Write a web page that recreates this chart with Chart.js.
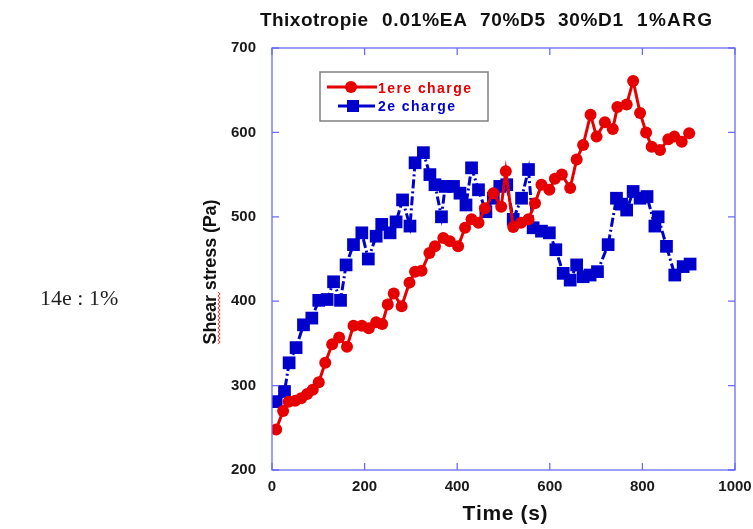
<!DOCTYPE html>
<html>
<head>
<meta charset="utf-8">
<script src="https://cdn.jsdelivr.net/npm/chart.js@4"></script>
<style>
  html, body { margin: 0; padding: 0; background: #fff; }
  #wrap { width: 753px; height: 529px; position: relative; }
</style>
</head>
<body>
<div id="wrap"><canvas id="thixoChart" width="753" height="529"></canvas></div>
<script>
// data
var titleWords = ["Thixotropie", "0.01%EA", "70%D5", "30%D1", "1%ARG"];
var seriesNames = ["1ere charge", "2e charge"];
var xTicks = [0, 200, 400, 600, 800, 1000];
var yTicks = [200, 300, 400, 500, 600, 700];

var time1 = [9, 24, 36, 50, 63, 76, 88, 101, 115, 130, 145, 162, 176, 194, 209, 225, 238, 250, 263, 280,
  297, 309, 323, 340, 352, 370, 384, 402, 417, 431, 446, 460, 478, 495, 505, 521, 538, 554, 568, 582,
  599, 611, 626, 644, 658, 672, 688, 701, 719, 736, 746, 766, 780, 795, 808, 820, 838, 856, 869, 885, 901];
var stress1 = [248, 270, 281, 282, 285, 290, 295, 304, 327, 349, 357, 346, 371, 371, 368, 375, 373, 396, 409, 394,
  422, 435, 436, 457, 465, 475, 471, 465, 487, 497, 493, 510, 528, 512, 554, 488, 493, 497, 516, 538,
  532, 545, 550, 534, 568, 585, 621, 595, 612, 604, 630, 633, 661, 623, 600, 583, 579, 592, 595, 589, 599];

var time2 = [9, 27, 37, 52, 68, 86, 101, 119, 133, 148, 160, 176, 194, 208, 225, 237, 255, 268, 282, 298,
  309, 327, 341, 352, 366, 374, 392, 406, 419, 431, 446, 462, 478, 492, 507, 521, 539, 554, 564, 582,
  599, 613, 629, 644, 658, 672, 687, 703, 726, 744, 755, 766, 780, 795, 810, 827, 834, 852, 870, 888, 903];
var stress2 = [281, 293, 327, 345, 372, 380, 401, 402, 423, 401, 443, 467, 481, 450, 477, 491, 481, 494, 520, 489,
  564, 576, 550, 538, 500, 536, 536, 528, 514, 558, 532, 506, 522, 536, 538, 497, 522, 556, 487, 483,
  481, 461, 433, 425, 443, 429, 431, 435, 467, 522, 515, 508, 530, 522, 524, 489, 500, 465, 431, 441, 444];

var red = "#e60000";
var blue = "#0000cc";
var axisBlue = "#6a6aff";
var boldFont = "Liberation Sans, Arial, sans-serif";

function toPoints(xs, ys) {
  var pts = [];
  for (var i = 0; i < xs.length; i++) pts.push({ x: xs[i], y: ys[i] });
  return pts;
}

// the original text is letter-spaced, so spread the glyphs over a given width
function spacedText(ctx, text, x, y, width, centered) {
  var widths = [], total = 0;
  for (var i = 0; i < text.length; i++) {
    var w = ctx.measureText(text[i]).width;
    widths.push(w); total += w;
  }
  var gap = text.length > 1 ? (width - total) / (text.length - 1) : 0;
  var cx = centered ? x - width / 2 : x;
  ctx.textAlign = "left";
  for (var j = 0; j < text.length; j++) {
    ctx.fillText(text[j], cx, y);
    cx += widths[j] + gap;
  }
}

// frame, inward ticks, titles, legend and the left note
var decorPlugin = {
  id: 'decor',
  afterDraw: function (chart) {
    var ctx = chart.ctx;
    var a = chart.chartArea;
    var xs = chart.scales.x, ys = chart.scales.y;
    ctx.save();
    ctx.strokeStyle = axisBlue;
    ctx.lineWidth = 1.3;
    ctx.strokeRect(a.left, a.top, a.right - a.left, a.bottom - a.top);
    ctx.beginPath();
    xTicks.forEach(function (v) {
      var px = xs.getPixelForValue(v);
      ctx.moveTo(px, a.bottom); ctx.lineTo(px, a.bottom - 7);
      ctx.moveTo(px, a.top); ctx.lineTo(px, a.top + 7);
    });
    yTicks.forEach(function (v) {
      var py = ys.getPixelForValue(v);
      ctx.moveTo(a.left, py); ctx.lineTo(a.left + 7, py);
      ctx.moveTo(a.right, py); ctx.lineTo(a.right - 7, py);
    });
    ctx.stroke();

    // title, word by word
    ctx.fillStyle = "#111";
    ctx.textBaseline = "alphabetic";
    ctx.font = "bold 19px " + boldFont;
    var spans = [[260, 368], [382, 467], [480, 545], [558, 623], [637, 712]];
    titleWords.forEach(function (w, i) {
      spacedText(ctx, w, spans[i][0], 26, spans[i][1] - spans[i][0], false);
    });

    // axis titles
    ctx.font = "bold 21px " + boldFont;
    spacedText(ctx, "Time (s)", 505, 520, 85, true);
    ctx.save();
    ctx.translate(216, 272);
    ctx.rotate(-Math.PI / 2);
    ctx.font = "bold 18px " + boldFont;
    spacedText(ctx, "Shear stress (Pa)", 0, 0, 145, true);
    ctx.restore();

    // spell-check squiggle
    ctx.strokeStyle = "#ff3030";
    ctx.lineWidth = 1;
    ctx.beginPath();
    for (var y = 292, k = 0; y <= 345; y += 2, k++) {
      var x = 219 + (k % 2 === 0 ? -1.2 : 1.2);
      if (k === 0) ctx.moveTo(x, y); else ctx.lineTo(x, y);
    }
    ctx.stroke();

    // side note
    ctx.fillStyle = "#222";
    ctx.font = "22px Liberation Serif, Times New Roman, serif";
    ctx.textAlign = "left";
    ctx.fillText("14e : 1%", 40, 305);

    // legend
    ctx.strokeStyle = "#808080";
    ctx.lineWidth = 1.5;
    ctx.strokeRect(320, 72, 168, 49);
    ctx.lineWidth = 3;
    ctx.strokeStyle = red;
    ctx.beginPath(); ctx.moveTo(327, 87); ctx.lineTo(377, 87); ctx.stroke();
    ctx.fillStyle = red;
    ctx.beginPath(); ctx.arc(351, 87, 6, 0, Math.PI * 2); ctx.fill();
    ctx.strokeStyle = blue;
    ctx.beginPath(); ctx.moveTo(338, 106); ctx.lineTo(375, 106); ctx.stroke();
    ctx.fillStyle = blue;
    ctx.fillRect(347, 100, 12, 12);
    ctx.font = "bold 14px " + boldFont;
    ctx.fillStyle = red;
    spacedText(ctx, seriesNames[0], 378, 93, 93, false);
    ctx.fillStyle = blue;
    spacedText(ctx, seriesNames[1], 378, 111, 77, false);
    ctx.restore();
  }
};

var ctx = document.getElementById('thixoChart').getContext('2d');
var chart = new Chart(ctx, {
  type: 'line',
  data: {
    datasets: [{
      label: seriesNames[0],
      data: toPoints(time1, stress1),
      borderColor: red,
      backgroundColor: red,
      borderWidth: 3,
      pointStyle: 'circle',
      pointRadius: 6,
      pointBorderWidth: 0,
      tension: 0
    }, {
      label: seriesNames[1],
      data: toPoints(time2, stress2),
      borderColor: blue,
      backgroundColor: blue,
      borderWidth: 3,
      borderDash: [9, 3, 2, 3],
      pointStyle: 'rect',
      pointRadius: 9,
      pointBorderWidth: 0,
      tension: 0
    }]
  },
  options: {
    responsive: false,
    animation: false,
    layout: { padding: { left: 0, right: 18, top: 48, bottom: 0 } },
    plugins: {
      legend: { display: false },
      title: { display: false },
      tooltip: { enabled: false }
    },
    scales: {
      x: {
        type: 'linear',
        min: 0,
        max: 1000,
        afterBuildTicks: function (s) { s.ticks = xTicks.map(function (v) { return { value: v }; }); },
        afterFit: function (s) { s.height = 59; s.paddingLeft = 0; s.paddingRight = 0; },
        grid: { display: false, drawTicks: false },
        border: { display: false },
        ticks: {
          padding: 8, color: "#1a1a1a", maxRotation: 0,
          font: { family: boldFont, size: 15, weight: 'bold' },
          callback: function (v) { return String(v); }
        }
      },
      y: {
        type: 'linear',
        min: 200,
        max: 700,
        afterBuildTicks: function (s) { s.ticks = yTicks.map(function (v) { return { value: v }; }); },
        afterFit: function (s) { s.width = 272; s.paddingTop = 0; s.paddingBottom = 0; },
        grid: { display: false, drawTicks: false },
        border: { display: false },
        ticks: {
          padding: 16, color: "#1a1a1a",
          font: { family: boldFont, size: 15, weight: 'bold' },
          callback: function (v) { return String(v); }
        }
      }
    }
  },
  plugins: [decorPlugin]
});
</script>
</body>
</html>
